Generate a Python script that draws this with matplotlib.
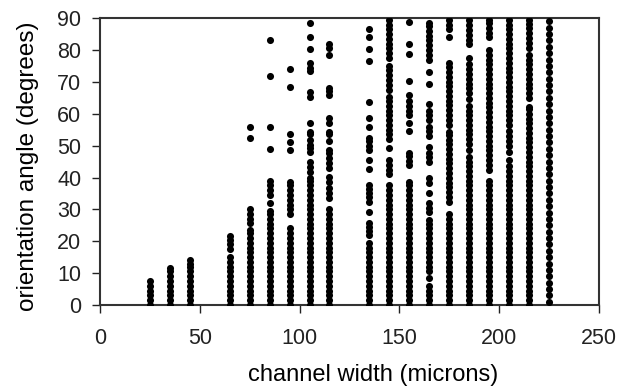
import matplotlib
matplotlib.use("Agg")
import matplotlib.pyplot as plt

# channel widths (microns) and measured orientation angles (degrees) per width
widths = [25, 35, 45, 65, 75, 85, 95, 105, 115, 135, 145, 155, 165, 175, 185, 195, 205, 215, 225]

w25 = [0, 1.5, 3, 4.5, 6, 7.5]
w35 = [0, 1.5, 3, 4.5, 6, 7.5, 9, 10.5, 11.5]
w45 = [0, 1.5, 3, 4.5, 6, 7.5, 9, 10.5, 12, 13, 14]
w65 = [0, 1.5, 3, 4.5, 6, 7.5, 9, 10.5, 12, 13.5, 15, 17.5, 19, 20.5, 21.5]
w75 = [0, 1.5, 3, 4.5, 6, 7.5, 9, 10.5, 12, 13.5, 15, 16.5, 18, 19.5, 21, 22.5, 23.5,
       25.8, 27, 28.6, 30, 52.5, 56]
w85 = [0, 1.5, 3, 4.5, 6, 7.5, 9, 10.5, 12, 13.5, 15, 16.5, 18, 19.5, 21, 22.5, 24, 25.5,
       27, 28.5, 29.5, 32, 34.5, 36, 37.5, 39, 49, 56, 72, 83]
w95 = [0, 1.5, 3, 4.5, 6, 7.5, 9, 10.5, 12, 13.5, 15, 16.5, 18, 19.5, 21, 22.5, 24,
       28.5, 30, 31.5, 33, 34.5, 36, 37.5, 38.5, 48.7, 51, 53.5, 68.3, 74]
w105 = [0, 1.5, 3, 4.5, 6, 7.5, 9, 10.5, 12, 13.5, 15, 16.5, 18, 19.5, 21, 22.5, 24, 25.5,
        27, 28.5, 30, 31.5, 33, 34.5, 36, 37.5, 39, 40, 41.8, 43.4, 45, 48.1, 49.4, 50.3,
        51.9, 53.5, 54.4, 57.2, 65.4, 66.7, 73.3, 74.5, 76, 80.4, 84, 88.6]
w115 = [0, 1.5, 3, 4.5, 6, 7.5, 9, 10.5, 12, 13.5, 15, 16.5, 18, 19.5, 21, 22.5, 24, 25.5,
        27, 28.5, 30, 33.6, 35, 36.8, 38.7, 40.3, 43, 44.5, 46.2, 47.8, 48.7, 51.3, 53.5,
        54.4, 57.2, 58.8, 66, 67, 68.2, 78.6, 80.8, 82]
w135 = [0, 1.5, 3, 4.5, 6, 7.5, 9, 10.5, 12, 13.5, 15, 16.5, 18, 19.5, 22, 23.3, 24.6,
        25.8, 29.3, 32.4, 33.8, 35.2, 36.5, 37.7, 42.8, 45.6, 48.7, 50, 51.3, 52.5, 56,
        58.8, 63.6, 76.7, 80.2, 84, 86.5]
w145 = [0, 1.5, 3, 4.5, 6, 7.5, 9, 10.5, 12, 13.5, 15, 16.5, 18, 19.5, 21, 22.5, 24, 25.5,
        27, 28.5, 30, 31.5, 33, 34.5, 36, 37.5, 41, 42.5, 44, 45.6, 49.4, 52, 53.5, 55,
        56.5, 58, 59.5, 61, 62.5, 64, 65.4, 67.6, 69.1, 70.6, 72.1, 73.6, 75, 77.5, 79,
        80.5, 82, 83.5, 85, 86.5, 88, 89.5]
w155 = [0, 1.5, 3, 4.5, 6, 7.5, 9, 10.5, 12, 13.5, 15, 16.5, 18, 19.5, 21, 22.5, 24, 25.5,
        27, 28.5, 30, 31.5, 33, 34.5, 36, 37.5, 38.7, 44, 45.3, 46.6, 47.8, 54.5, 57.2,
        59.5, 61, 62.5, 64, 66, 70.4, 78.8, 82, 88.8]
w165 = [0, 1.5, 3, 4.5, 6, 8.6, 10.5, 12, 13.5, 15, 16.5, 18, 19.5, 21, 22.5, 24, 25.5,
        26.7, 29.2, 30.5, 32, 35.2, 38.4, 40, 45, 46.5, 47.8, 49.7, 53, 54.5, 56, 58,
        59.5, 61, 63, 69.5, 73, 77, 78.5, 80, 81.5, 83, 84.5, 86, 87.5, 88.5]
w175 = [0, 1.5, 3, 4.5, 6, 7.5, 9, 10.5, 12, 13.5, 15, 16.5, 18, 19.5, 21, 22.5, 24, 25.5,
        27, 28.5, 32.4, 33.9, 35.4, 36.9, 38.4, 39.9, 41.4, 42.9, 44.4, 45.9, 47.4, 48.9,
        50.4, 51.9, 53.4, 54.4, 56.6, 58.1, 59.6, 61.1, 62.6, 64.1, 65.6, 67.1, 68.6, 70.1,
        71.6, 73.1, 74.6, 76, 84, 86.5, 88, 89.5]
w185 = [0, 1.5, 3, 4.5, 6, 7.5, 9, 10.5, 12, 13.5, 15, 16.5, 18, 19.5, 21, 22.5, 24, 25.5,
        27, 28.5, 30, 31.5, 33, 34.5, 36, 37.5, 39, 40.5, 42, 43.5, 45, 46.5, 48.7, 50.5,
        52, 53.5, 55, 56.5, 58, 59.5, 61, 62.5, 64.5, 66.5, 68, 69.5, 71, 72.5, 74, 75.5,
        77.5, 81.8, 83.3, 84.8, 86.3, 87.8, 89.5]
w195 = [0, 1.5, 3, 4.5, 6, 7.5, 9, 10.5, 12, 13.5, 15, 16.5, 18, 19.5, 21, 22.5, 24, 25.5,
        27, 28.5, 30, 31.5, 33, 34.5, 36, 37.5, 39, 42.5, 44, 45.5, 47, 48.5, 50, 51.5,
        53, 54.5, 56, 57.5, 59, 60.5, 62, 63.5, 65, 66.5, 68, 69.5, 71, 72.5, 74, 75.5,
        77, 78.5, 80, 84, 85.5, 87, 88.5, 89.5]
w205 = [0, 1.5, 3, 4.5, 6, 7.5, 9, 10.5, 12, 13.5, 15, 16.5, 18, 19.5, 21, 22.5, 24, 25.5,
        27, 28.5, 30, 31.5, 33, 34.5, 36, 37.5, 39, 40.5, 42, 43.5, 45.5, 48, 50, 51.5,
        53, 54.5, 56.5, 58, 59.5, 61, 62.5, 64, 65.5, 67, 68.5, 70, 71.5, 73, 74.5, 76,
        77.5, 79, 80.5, 82, 83.5, 85, 86.5, 88, 89.5]
w215 = [0, 1.5, 3, 4.5, 6, 7.5, 9, 10.5, 12, 13.5, 15, 16.5, 18, 19.5, 21, 22.5, 24, 25.5,
        27, 28.5, 30, 31.5, 33, 34.5, 36, 37.5, 39, 40.5, 42, 43.5, 45, 46.5, 48, 49.5,
        51, 52.5, 54, 55.5, 57, 58.5, 60, 61.5, 62, 65, 66.5, 68, 69.5, 71, 72.5, 74,
        75.5, 77, 78.6, 80.8, 82.3, 83.8, 85.3, 86.8, 88.3, 89.5]
w225 = [1, 3, 5, 7, 9, 11, 13, 15, 17, 19, 21, 23, 25, 27, 29, 31, 33, 35, 37, 39, 41, 43,
        45, 47, 49, 51, 53, 55, 57, 59, 61, 63, 65, 67, 69, 71, 73, 75, 77, 79, 81, 83, 85,
        87, 89]

angles = [w25, w35, w45, w65, w75, w85, w95, w105, w115, w135, w145, w155, w165,
          w175, w185, w195, w205, w215, w225]

x_ticks = [0, 50, 100, 150, 200, 250]
y_ticks = [0, 10, 20, 30, 40, 50, 60, 70, 80, 90]

plt.rcParams["font.family"] = ["Liberation Sans", "DejaVu Sans"]

fig = plt.figure(figsize=(6.29, 3.87), dpi=100)
ax = fig.add_axes([0.159, 0.212, 0.793, 0.741])

for w, ys in zip(widths, angles):
    ax.scatter([w] * len(ys), ys, s=26, color="black", linewidths=0, zorder=3)

ax.set_xlim(0, 250)
ax.set_ylim(0, 90)
ax.set_xticks(x_ticks)
ax.set_yticks(y_ticks)
ax.tick_params(axis="both", direction="out", length=5.5, width=1, labelsize=15.5,
               colors="#222222")
ax.tick_params(axis="x", pad=11)
ax.tick_params(axis="y", pad=8)
for sp in ax.spines.values():
    sp.set_linewidth(1.5)
    sp.set_color("#333333")

ax.set_xlabel("channel width (microns)", fontsize=17)
ax.set_ylabel("orientation angle (degrees)", fontsize=17.5)
ax.xaxis.set_label_coords(0.547, -0.205)
ax.yaxis.set_label_coords(-0.122, 0.484)

fig.savefig("out.png", dpi=100)
